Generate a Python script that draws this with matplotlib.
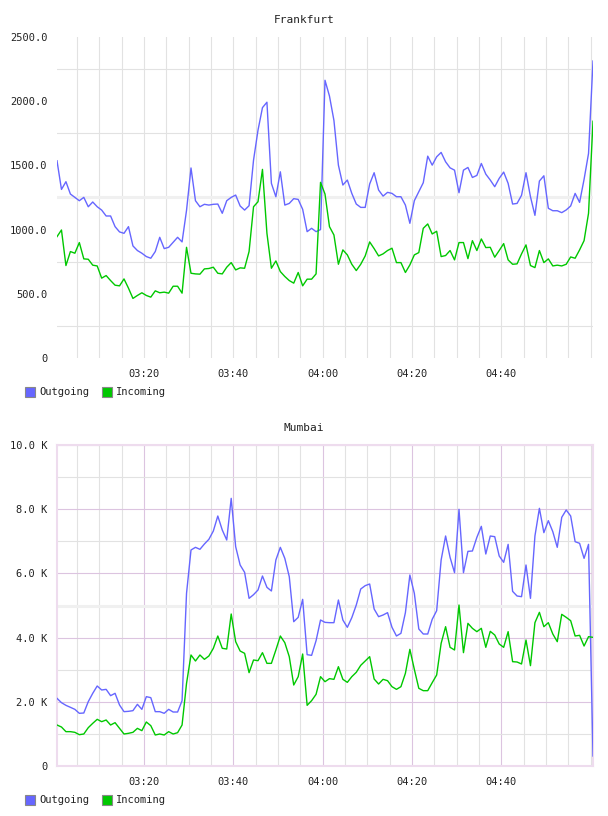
import numpy as np
import matplotlib
matplotlib.use("Agg")
import matplotlib.pyplot as plt
from matplotlib.patches import Rectangle

# minutes after 03:00, one sample per minute
minutes = np.arange(121) + 0.5

fra_out = [1536, 1313, 1373, 1277, 1251, 1225, 1251, 1178, 1215, 1178, 1152, 1106, 1106, 1023, 982,
           971, 1023, 873, 837, 816, 790, 777, 829, 940, 852, 862, 901, 940, 904, 1150, 1480,
           1225, 1178, 1197, 1191, 1197, 1199, 1127, 1225, 1251, 1269, 1184, 1152, 1186, 1541, 1774,
           1950, 1992, 1360, 1256, 1450, 1191, 1204, 1241, 1235, 1158, 984, 1010, 984, 1000, 2163,
           2040, 1850, 1502, 1347, 1386, 1282, 1199, 1173, 1173, 1355, 1443, 1308, 1261, 1290, 1282,
           1256, 1256, 1191, 1049, 1225, 1295, 1365, 1572, 1502, 1567, 1601, 1528, 1481, 1463, 1287,
           1463, 1484, 1406, 1422, 1515, 1432, 1386, 1334, 1399, 1448, 1360, 1199, 1204, 1267, 1443,
           1256, 1111, 1378, 1419, 1166, 1147, 1147, 1132, 1153, 1184, 1282, 1212, 1391, 1593, 2313]
fra_in = [945, 997, 720, 829, 816, 899, 772, 769, 723, 717, 622, 642, 603, 567, 562,
          616, 544, 464, 487, 508, 487, 474, 523, 508, 513, 505, 559, 559, 505, 862, 660,
          655, 653, 694, 697, 707, 660, 655, 707, 743, 686, 702, 699, 829, 1178, 1217,
          1469, 971, 699, 756, 673, 635, 603, 583, 666, 562, 614, 614, 655, 1368, 1277,
          1023, 958, 730, 842, 803, 730, 681, 730, 795, 904, 852, 795, 811, 837, 855,
          743, 743, 666, 725, 803, 821, 1010, 1044, 966, 987, 790, 798, 837, 764, 899,
          899, 774, 914, 837, 927, 860, 862, 785, 837, 891, 764, 730, 733, 811, 881,
          720, 704, 837, 743, 772, 717, 723, 717, 730, 787, 777, 842, 914, 1127, 1844]

mum_out = [2108, 1973, 1890, 1828, 1765, 1641, 1651, 2004, 2264, 2492, 2368, 2388, 2191, 2264, 1900,
           1693, 1703, 1724, 1921, 1765, 2160, 2129, 1693, 1693, 1641, 1765, 1682, 1682, 2035, 5379, 6729,
           6812, 6750, 6916, 7061, 7321, 7788, 7352, 7040, 8338, 6833, 6262, 6033, 5223, 5337, 5483,
           5919, 5566, 5452, 6417, 6812, 6469, 5898, 4496, 4631, 5192, 3468, 3447, 3904, 4548, 4475,
           4465, 4465, 5171, 4548, 4320, 4621, 5015, 5514, 5618, 5670, 4891, 4652, 4704, 4777, 4320,
           4050, 4133, 4777, 5950, 5379, 4268, 4112, 4112, 4569, 4839, 6417, 7165, 6500, 6023, 7996,
           6023, 6687, 6698, 7123, 7466, 6604, 7165, 7144, 6542, 6345, 6905, 5441, 5296, 5275, 6262,
           5223, 7165, 8027, 7269, 7643, 7300, 6812, 7746, 7975, 7788, 6988, 6937, 6469, 6905, 312]
mum_in = [1277, 1215, 1070, 1070, 1049, 976, 997, 1194, 1329, 1454, 1381, 1433, 1277, 1350, 1173,
          997, 1018, 1049, 1173, 1101, 1371, 1256, 966, 997, 966, 1070, 997, 1038, 1277, 2575, 3458,
          3271, 3458, 3323, 3427, 3666, 4050, 3666, 3645, 4735, 3873, 3582, 3510, 2908, 3302, 3281,
          3531, 3198, 3198, 3614, 4050, 3842, 3406, 2523, 2783, 3489, 1890, 2035, 2233, 2783, 2627,
          2721, 2700, 3094, 2700, 2606, 2783, 2918, 3136, 3271, 3406, 2710, 2554, 2700, 2658, 2471,
          2388, 2471, 2887, 3634, 3011, 2420, 2347, 2347, 2596, 2835, 3821, 4340, 3697, 3614, 5015,
          3531, 4444, 4289, 4185, 4289, 3697, 4195, 4081, 3801, 3697, 4185, 3250, 3240, 3178, 3925,
          3126, 4465, 4787, 4340, 4465, 4112, 3873, 4725, 4631, 4527, 4050, 4071, 3738, 4029, 4008]

tick_minutes = [20, 40, 60, 80, 100]
tick_labels = ["03:20", "03:40", "04:00", "04:20", "04:40"]
series_names = ["Outgoing", "Incoming"]

BLUE = "#6666ff"
GREEN = "#00c800"
GRAY = "#e2e2e2"
PURPLE = "#dcc4e0"
FRAME = "#eedcee"
FONT = "DejaVu Sans Mono"
FS = 7.5

W, H = 608, 816
fig = plt.figure(figsize=(W / 100, H / 100), dpi=100)
fig.patch.set_facecolor("white")


def add_panel(top_px, title, out, inc, ymax, major, minor, fmt, framed):
    ax = fig.add_axes([57 / W, 1 - (top_px + 321) / H, 536 / W, 321 / H])
    ax.set_xlim(0.5, 120.5)
    ax.set_ylim(0, ymax)
    minor_x = [m for m in range(5, 121, 5) if m not in tick_minutes]
    ax.set_xticks(tick_minutes)
    ax.set_xticklabels(tick_labels)
    ax.set_xticks(minor_x, minor=True)
    ax.set_yticks(major)
    ax.set_yticklabels([fmt(v) for v in major])
    ax.set_yticks(minor, minor=True)
    ax.tick_params(which="both", length=0, labelsize=FS, colors="#222222")
    ax.tick_params(axis="x", pad=8)
    ax.tick_params(axis="y", pad=7)
    for lab in ax.get_xticklabels() + ax.get_yticklabels():
        lab.set_fontfamily(FONT)

    # grid
    for m in minor_x:
        ax.axvline(m, color=GRAY, lw=0.8, zorder=0)
    for m in tick_minutes:
        ax.axvline(m, color=PURPLE if framed else GRAY, lw=0.8, zorder=0)
    for v in minor:
        ax.axhline(v, color=GRAY, lw=0.8, zorder=0)
    ax.axhline(ymax / 2, color="#f0f0f0", lw=2.2, zorder=0)
    if framed:
        for v in major[1:]:
            ax.axhline(v, color=PURPLE, lw=0.8, zorder=0)

    for s in ax.spines.values():
        s.set_visible(framed)
        s.set_color(FRAME)
        s.set_linewidth(1.5)

    ax.plot(minutes, out, color=BLUE, lw=1.0, zorder=3)
    ax.plot(minutes, inc, color=GREEN, lw=1.0, zorder=3)

    fig.text(304 / W, 1 - (top_px - 17) / H, title, ha="center", va="center",
             fontsize=8, family=FONT, color="#222222")

    # legend
    leg_y = top_px + 355
    for x0, name, col in [(25, series_names[0], BLUE), (102, series_names[1], GREEN)]:
        fig.patches.append(Rectangle((x0 / W, 1 - (leg_y + 5) / H), 10 / W, 10 / H,
                                     transform=fig.transFigure, facecolor=col,
                                     edgecolor="#888888", lw=0.8))
        fig.text((x0 + 14) / W, 1 - leg_y / H, name, ha="left", va="center",
                 fontsize=FS, family=FONT, color="#222222")
    return ax


add_panel(37, "Frankfurt", fra_out, fra_in, 2500,
          [0, 500, 1000, 1500, 2000, 2500], [250, 750, 1250, 1750, 2250],
          lambda v: "0" if v == 0 else f"{v:.1f}", False)
add_panel(445, "Mumbai", mum_out, mum_in, 10000,
          [0, 2000, 4000, 6000, 8000, 10000], [1000, 3000, 5000, 7000, 9000],
          lambda v: "0" if v == 0 else f"{v / 1000:.1f} K", True)

fig.savefig("out.png", dpi=100)
